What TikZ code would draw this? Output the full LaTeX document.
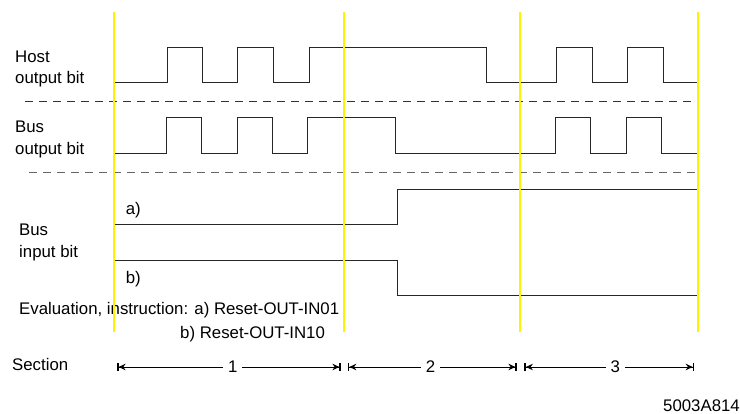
\documentclass[tikz,border=0pt]{standalone}
\usepackage{fontspec}
\setmainfont{Liberation Sans}
\usetikzlibrary{arrows.meta,positioning}

\begin{document}
\begin{tikzpicture}[
  x=1pt, y=-1pt,
  lbl/.style={anchor=base west, inner sep=0pt, align=left, font=\fontsize{16.8}{21.5}\selectfont},
  signal/.style={line width=1pt, black!85},
  sep/.style={line width=0.9pt, black!80, dash pattern=on 8pt off 6pt},
  marker/.style={line width=2pt, yellow},
  dim/.style={line width=0.9pt, {Bar[width=7.5pt,line width=1.6pt]Stealth[length=7pt,width=6.5pt]}-{Stealth[length=7pt,width=6.5pt]Bar[width=7.5pt,line width=1.6pt]}},
  seclabel/.style={fill=white, inner xsep=5pt, inner ysep=2pt, font=\fontsize{16.8}{21}\selectfont},
]
  \useasboundingbox (0,0) rectangle (740,414);

  \node[lbl] (hostlbl) at (15,84) {Host\\output bit};
  \node[lbl] (busoutlbl) at (15,154.3) {Bus\\output bit};
  \node[lbl] (businlbl) at (19,257.3) {Bus\\input bit};
  \node[lbl] (lbla) at (125.7,215) {a)};
  \node[lbl] (lblb) at (125.7,283.3) {b)};
  \node[lbl] (evallbl) at (19,315) {Evaluation, instruction: a) Reset-OUT-IN01};
  \node[lbl] (evalb) at (180,338.3) {b) Reset-OUT-IN10};
  \node[lbl] (seclbl) at (12,370.7) {Section};
  \node[lbl, anchor=base east] (figid) at (740,411.5) {5003A814};

  \draw[signal] (115,83) -| (167,48) -| (202,83) -| (237,48) -| (273,83) -| (309,48)
    -| (486,83) -| (556,48) -| (592,83) -| (627,48) -| (663,83) -- (698,83);
  \draw[signal] (115,154) -| (166,118) -| (201,154) -| (237,118) -| (272,154) -| (307,118)
    -| (395,154) -| (555,118) -| (590,154) -| (626,118) -| (661,154) -- (698,154);
  \draw[signal] (115,225) -| (397,190) -- (698,190);
  \draw[signal] (115,261) -| (397,296) -- (698,296);

  \draw[sep] (25,101) -- (698,101);
  \draw[sep, black!60] (29,172) -- (698,172);

  \foreach \xm in {114,344,520,698}
    \draw[marker] (\xm,12) -- (\xm,332);

  \coordinate (sec1a) at (117,367);
  \coordinate (sec1b) at (341,367);
  \coordinate (sec2a) at (347.7,367);
  \coordinate (sec2b) at (517,367);
  \coordinate (sec3a) at (524.3,367);
  \coordinate (sec3b) at (694.3,367);
  \draw[dim] (sec1a) -- (sec1b) node[seclabel, pos=0.517] (num1) {1};
  \draw[dim] (sec2a) -- (sec2b) node[seclabel, pos=0.49] (num2) {2};
  \draw[dim] (sec3a) -- (sec3b) node[seclabel, pos=0.535] (num3) {3};
\end{tikzpicture}
\end{document}
